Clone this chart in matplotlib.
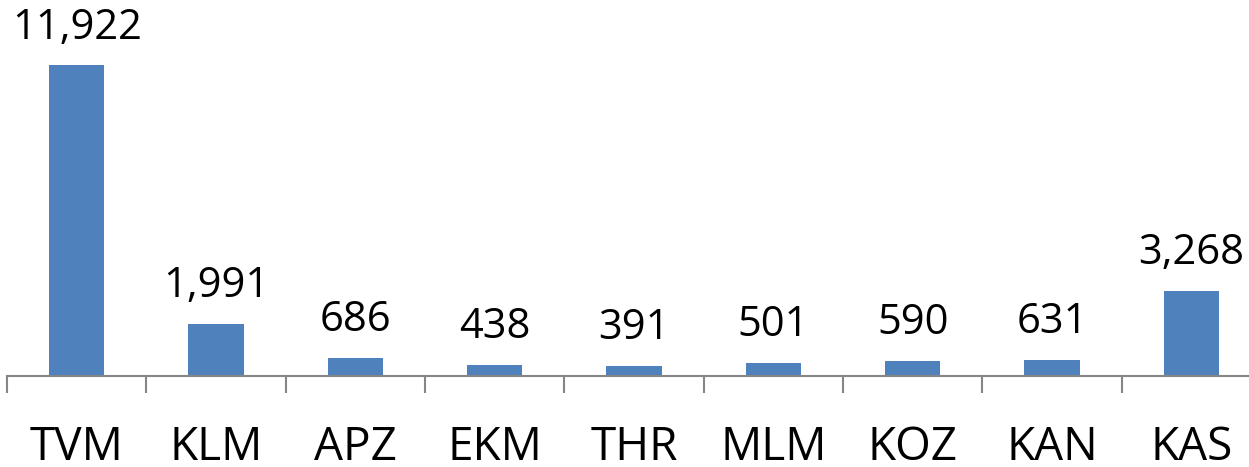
import matplotlib
matplotlib.use("Agg")
import matplotlib.pyplot as plt

districts = ["TVM", "KLM", "APZ", "EKM", "THR", "MLM", "KOZ", "KAN", "KAS"]
counts = [11922, 1991, 686, 438, 391, 501, 590, 631, 3268]

bar_color = "#4F81BD"
axis_color = "#868686"

plt.rcParams["font.family"] = ["Open Sans", "DejaVu Sans"]

fig = plt.figure(figsize=(12.49, 4.67), dpi=100)
# axes run a little past the right edge, as the category axis does
ax = fig.add_axes([7 / 1249, 1 - 376 / 467, 1254 / 1249, 365 / 467])

x = range(len(districts))
bars = ax.bar(x, counts, width=0.395, color=bar_color, zorder=2)

for rect, v in zip(bars, counts):
    ax.annotate(f"{v:,}", (rect.get_x() + rect.get_width() / 2, v),
                xytext=(0, 12), textcoords="offset points",
                ha="center", va="bottom", fontsize=30, color="black")

ax.set_xlim(-0.5, len(districts) - 0.5)
ax.set_ylim(0, 14000)

for s in ["top", "right", "left"]:
    ax.spines[s].set_visible(False)
ax.spines["bottom"].set_color(axis_color)
ax.spines["bottom"].set_linewidth(1.5)

ax.set_yticks([])
ax.set_xticks([i - 0.5 for i in range(len(districts) + 1)], minor=False)
ax.set_xticklabels([])
ax.tick_params(axis="x", which="major", length=12, width=1.5, color=axis_color)
ax.set_xticks(list(x), minor=True)
ax.set_xticklabels(districts, minor=True, fontsize=33)
ax.tick_params(axis="x", which="minor", length=0, pad=35)

fig.savefig("out.png", dpi=100)
